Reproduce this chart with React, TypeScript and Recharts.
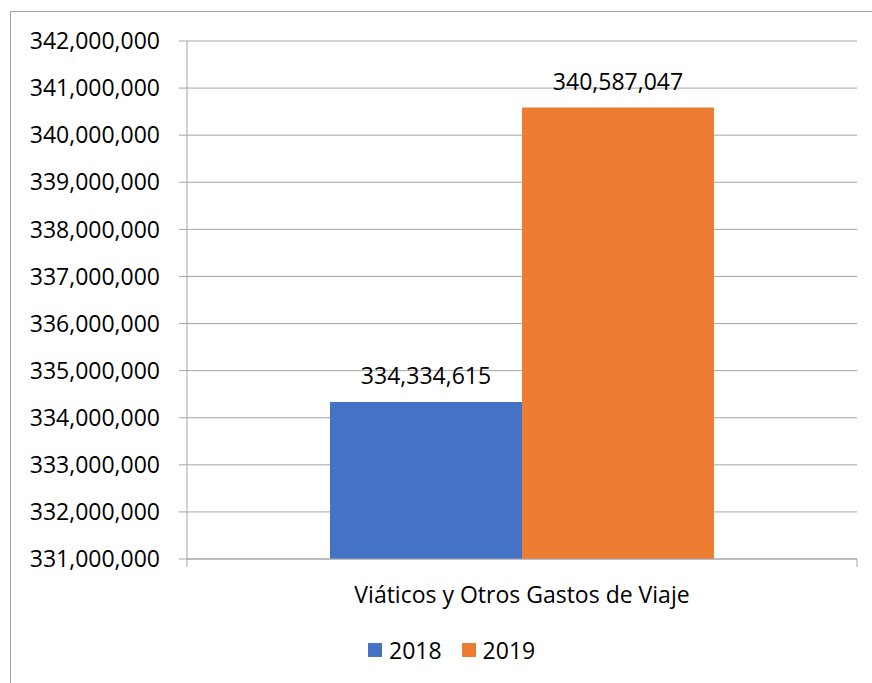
import React from 'react';
import { BarChart, Bar, XAxis, YAxis, CartesianGrid, LabelList, Legend } from 'recharts';

const categories = ['Viáticos y Otros Gastos de Viaje'];
const values2018 = [334334615];
const values2019 = [340587047];
const yTicks = [331000000, 332000000, 333000000, 334000000, 335000000, 336000000, 337000000, 338000000, 339000000, 340000000, 341000000, 342000000];
const seriesNames = ['2018', '2019'];

const data = categories.map((c, i) => ({ name: c, y2018: values2018[i], y2019: values2019[i] }));

const FONT = '"Open Sans", "Liberation Sans", sans-serif';
const fmt = (v: number) => Number(v).toLocaleString('en-US');
const colors = ['#4472C4', '#ED7D31'];
const GRID = '#a6a6a6';
const X_TICK_MARGIN = 28;

const CategoryTick = (props: any) => {
  const { x, y, payload } = props;
  const half = payload && payload.offset ? payload.offset : 0;
  const axisY = y - X_TICK_MARGIN;
  return (
    <g>
      <line x1={x - half} x2={x - half} y1={axisY} y2={axisY + 8} stroke={GRID} />
      <line x1={x + half} x2={x + half} y1={axisY} y2={axisY + 8} stroke={GRID} />
      <text x={x} y={y} dy="0.71em" textAnchor="middle" fill="#000" fontSize={23} fontFamily={FONT}>{payload.value}</text>
    </g>
  );
};

const LegendContent = () => (
  <div style={{ display: 'flex', alignItems: 'center', fontFamily: FONT, fontSize: 23, color: '#000', height: 24 }}>
    {seriesNames.map((n, i) => (
      <div key={n} style={{ display: 'flex', alignItems: 'center', marginRight: 20 }}>
        <div style={{ width: 14, height: 14, background: colors[i], marginRight: 7 }} />
        <span style={{ lineHeight: '23px' }}>{n}</span>
      </div>
    ))}
  </div>
);

export default function App() {
  return (
    <div style={{ position: 'absolute', left: 0, top: 0, width: 872, height: 683, background: '#fff', overflow: 'hidden' }}>
      <div style={{ position: 'absolute', left: 10, top: 11, width: 880, height: 700, borderLeft: `1px solid ${GRID}`, borderTop: `1px solid ${GRID}` }} />
      <div style={{ position: 'absolute', left: 0, top: 0 }}>
        <BarChart width={872} height={683} data={data} margin={{ top: 41, right: 15, bottom: 0, left: 0 }} barCategoryGap={143} barGap={0}>
          <CartesianGrid vertical={false} stroke={GRID} strokeWidth={1} />
          <XAxis dataKey="name" axisLine={{ stroke: GRID }} tickLine={false} tickSize={0} tickMargin={X_TICK_MARGIN}
            tick={<CategoryTick />} height={124} />
          <YAxis domain={[331000000, 342000000]} ticks={yTicks} tickFormatter={fmt} width={187} interval={0}
            axisLine={{ stroke: GRID }} tickLine={{ stroke: GRID }} tickSize={8} tickMargin={19}
            tick={{ fill: '#000', fontSize: 23, fontFamily: FONT }} allowDataOverflow />
          <Legend verticalAlign="middle" align="center" content={<LegendContent />} wrapperStyle={{ left: 368, top: 638, width: 300 }} />
          <Bar dataKey="y2018" name={seriesNames[0]} fill={colors[0]} isAnimationActive={false}>
            <LabelList dataKey="y2018" position="top" offset={18} formatter={fmt} style={{ fill: '#000', fontSize: 23, fontFamily: FONT }} />
          </Bar>
          <Bar dataKey="y2019" name={seriesNames[1]} fill={colors[1]} isAnimationActive={false}>
            <LabelList dataKey="y2019" position="top" offset={18} formatter={fmt} style={{ fill: '#000', fontSize: 23, fontFamily: FONT }} />
          </Bar>
        </BarChart>
      </div>
    </div>
  );
}
